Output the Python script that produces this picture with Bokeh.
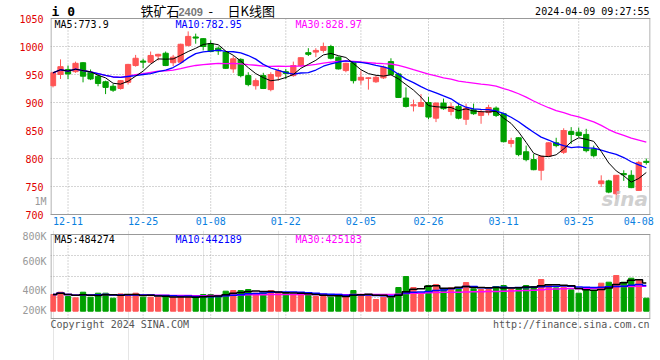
from bokeh.plotting import figure
from bokeh.layouts import column
from bokeh.models import Range1d, FixedTicker, Label, ColumnDataSource, LinearAxis, Span
from bokeh.embed import file_html
from bokeh.resources import INLINE

# ---------------- data ----------------
dates = ["12-07", "12-08",
         "12-11", "12-12", "12-13", "12-14", "12-15",
         "12-18", "12-19", "12-20", "12-21", "12-22",
         "12-25", "12-26", "12-27", "12-28", "12-29",
         "01-02", "01-03", "01-04", "01-05",
         "01-08", "01-09", "01-10", "01-11", "01-12",
         "01-15", "01-16", "01-17", "01-18", "01-19",
         "01-22", "01-23", "01-24", "01-25", "01-26",
         "01-29", "01-30", "01-31", "02-01", "02-02",
         "02-05", "02-06", "02-07", "02-08",
         "02-19", "02-20", "02-21", "02-22", "02-23",
         "02-26", "02-27", "02-28", "02-29", "03-01",
         "03-04", "03-05", "03-06", "03-07", "03-08",
         "03-11", "03-12", "03-13", "03-14", "03-15",
         "03-18", "03-19", "03-20", "03-21", "03-22",
         "03-25", "03-26", "03-27", "03-28", "03-29",
         "04-01", "04-02", "04-03",
         "04-08", "04-09"]

opens = [930, 950, 959, 955, 971, 954, 947, 937, 929, 925,
         936, 966, 974, 972, 983, 988, 971, 972, 1002, 1017,
         1014, 1005, 997, 990, 960, 977, 948, 930, 948, 923,
         947, 955, 948, 966, 989, 990, 993, 1000, 981, 957,
         971, 940, 943, 937, 944, 973, 951, 908, 894, 893,
         900, 872, 899, 884, 893, 870, 887, 877, 882, 890,
         880, 827, 837, 812, 798, 779, 804, 828, 811, 848,
         847, 843, 817, 755, 760, 737, 773, 770, 743, 795]

highs = [955, 977, 966, 973, 972, 959, 951, 939, 933, 940,
         969, 985, 978, 991, 987, 991, 985, 1005, 1027, 1023,
         1015, 1011, 1000, 991, 983, 979, 954, 943, 953, 954,
         961, 960, 973, 981, 997, 997, 1007, 1003, 982, 971,
         972, 957, 945, 948, 966, 979, 953, 927, 905, 915,
         910, 900, 907, 900, 899, 898, 898, 888, 896, 893,
         881, 837, 838, 823, 808, 805, 829, 837, 854, 856,
         855, 853, 823, 770, 762, 770, 779, 779, 796, 800]

lows = [927, 942, 942, 953, 936, 940, 929, 915, 919, 923,
        932, 964, 961, 970, 975, 965, 965, 970, 1000, 1005,
        993, 990, 985, 960, 953, 945, 929, 923, 924, 920,
        939, 942, 946, 963, 983, 981, 989, 977, 959, 954,
        934, 932, 923, 935, 942, 949, 908, 891, 884, 892,
        870, 865, 887, 877, 870, 860, 878, 862, 877, 874,
        829, 820, 804, 795, 779, 761, 803, 820, 808, 826,
        838, 811, 802, 749, 738, 727, 760, 747, 742, 789]

closes = [953, 964, 951, 970, 947, 942, 934, 927, 922, 939,
          968, 979, 972, 984, 986, 966, 981, 1004, 1018, 1015,
          1000, 991, 992, 961, 978, 948, 932, 939, 925, 950,
          957, 952, 966, 980, 986, 993, 1000, 979, 960, 970,
          939, 945, 944, 945, 963, 950, 909, 893, 896, 900,
          874, 899, 889, 893, 872, 890, 880, 883, 891, 877,
          830, 832, 807, 798, 780, 804, 828, 823, 850, 843,
          841, 814, 805, 760, 740, 770, 771, 748, 793, 793]

volumes = [285000, 325000, 251000, 228000, 325000, 239000, 308000, 308000, 222000, 296000,
           285000, 308000, 239000, 239000, 239000, 257000, 239000, 239000, 239000, 228000,
           285000, 285000, 268000, 342000, 353000, 353000, 371000, 308000, 308000, 353000,
           308000, 308000, 285000, 285000, 296000, 251000, 251000, 239000, 285000, 239000,
           353000, 285000, 285000, 200000, 239000, 228000, 405000, 593000, 405000, 285000,
           439000, 456000, 382000, 399000, 382000, 490000, 382000, 371000, 371000, 422000,
           439000, 371000, 405000, 439000, 422000, 542000, 456000, 399000, 410000, 365000,
           308000, 353000, 353000, 479000, 496000, 610000, 496000, 564000, 524000, 222000]

tick_dates = ["12-11", "12-25", "01-08", "01-22", "02-05", "02-26", "03-11", "03-25", "04-08"]
grid_dates = ["12-11", "12-25", "01-08", "01-22", "02-05", "02-26", "03-11", "03-25"]
price_ticks = [700, 750, 800, 850, 900, 950, 1000, 1050]
price_grid = [750, 800, 850, 900, 950, 1000]
vol_tick_labels = ["200K", "400K", "600K", "800K"]
price_ma_text = ["MA5:773.9", "MA10:782.95", "MA30:828.97"]
vol_ma_text = ["MA5:484274", "MA10:442189", "MA30:425183"]
title_name = "铁矿石"
title_code = "2409"
title_kind = "日K线图"
symbol_text = "i 0"
stamp_text = "2024-04-09 09:27:55"

# ---------------- styling / layout constants ----------------
RED = "#ff5555"
GREEN = "#00a000"
MONO = "DejaVu Sans Mono"
GRID = "#aaaaaa"
FRAME = "#999999"
P_LO, P_HI = 700, 1050            # visible price box
P_TOP = 1050 + 18 * 350 / 196     # frame extends 18px above the box (header row)
VPX = 17100                        # volume units per pixel
V_BASE_Y = 310.7                   # pixel row of zero volume
V_TOP = (V_BASE_Y - 230) * VPX     # frame top  (page y 230)
V_BOT = -(360 - V_BASE_Y) * VPX    # frame bottom (page y 360)
VB_HI = (V_BASE_Y - 234) * VPX     # visible volume box top
VB_LO = -(318 - V_BASE_Y) * VPX    # visible volume box bottom
vol_tick_pos = [(V_BASE_Y - y) * VPX for y in (310, 290, 261, 231)]


def moving_avg(vals, n):
    out = []
    for i in range(len(vals)):
        w = vals[max(0, i - n + 1): i + 1]
        out.append(sum(w) / len(w))
    return out


xs = list(range(len(dates)))
colors = [RED if c > o else GREEN for o, c in zip(opens, closes)]
src = ColumnDataSource(dict(
    x=xs, o=opens, h=highs, l=lows, c=closes,
    top=[max(o, c) for o, c in zip(opens, closes)],
    bot=[min(o, c) for o, c in zip(opens, closes)],
    col=colors, vol=volumes,
    ma5=moving_avg(closes, 5), ma10=moving_avg(closes, 10), ma30=moving_avg(closes, 30),
    vma5=moving_avg(volumes, 5), vma10=moving_avg(volumes, 10), vma30=moving_avg(volumes, 30),
))

tick_idx = [dates.index(d) for d in tick_dates]
grid_idx = [dates.index(d) for d in grid_dates]

X0, X1 = -0.333, 79.56
xr = Range1d(X0, X1)
inset = 0.5 * (X1 - X0) / 600.0   # half a pixel in x data units


def style_axis(ax, color, standoff):
    ax.axis_line_color = None
    ax.major_tick_line_color = None
    ax.minor_tick_line_color = None
    ax.major_tick_out = 0
    ax.major_tick_in = 0
    ax.major_label_text_font = MONO
    ax.major_label_text_font_size = "10px"
    ax.major_label_text_color = color
    ax.major_label_standoff = standoff


def lab(fig, fl, fb, X, Y, text, color="black", size="10px", font=MONO, align="left",
        style="normal", alpha=1.0):
    fig.add_layout(Label(x=X - fl, y=fb - Y, x_units="screen", y_units="screen", text=text,
                         text_color=color, text_font_size=size, text_font=font,
                         text_align=align, text_baseline="middle", text_font_style=style,
                         text_alpha=alpha))


# ---------------- price figure ----------------
FL, PB = 50, 214
p = figure(width=660, height=230, x_range=xr, y_range=Range1d(P_LO, P_TOP),
           output_backend="svg", toolbar_location=None, title=None,
           min_border_left=50, min_border_right=10, min_border_top=0, min_border_bottom=16)
p.background_fill_color = "white"
p.border_fill_color = "white"
p.outline_line_color = None

p.xaxis.ticker = FixedTicker(ticks=tick_idx)
p.xaxis.major_label_overrides = {i: d for i, d in zip(tick_idx, tick_dates)}
style_axis(p.xaxis[0], "#0a80e0", 2)
p.xaxis.axis_line_color = FRAME

# inner (nearest the frame) left axis carries the small grey "1M" mark
p.yaxis.ticker = FixedTicker(ticks=[724])
p.yaxis.major_label_overrides = {724: "1M"}
style_axis(p.yaxis[0], "#999999", 4)
# outer left axis carries the red price labels
price_axis = LinearAxis(ticker=FixedTicker(ticks=price_ticks))
style_axis(price_axis, "#e00000", -12)
p.add_layout(price_axis, "left")

p.xgrid.grid_line_color = None
p.ygrid.ticker = FixedTicker(ticks=price_grid)
p.ygrid.grid_line_color = GRID
p.ygrid.grid_line_dash = "1 2"

# vertical dotted grid lines limited to the box, and box edges
p.segment(x0=grid_idx, y0=P_LO, x1=grid_idx, y1=P_HI, line_color=GRID, line_dash="1 2",
          line_width=1)
p.segment(x0=[X0 + inset, X1 - inset], y0=P_LO, x1=[X0 + inset, X1 - inset], y1=P_HI,
          line_color=FRAME, line_width=1)
p.add_layout(Span(location=P_HI, dimension="width", line_color=FRAME, line_width=1))

p.segment(x0="x", y0="l", x1="x", y1="h", color="col", line_width=1, source=src)
p.vbar(x="x", width=0.7, top="top", bottom="bot", fill_color="col", line_color="col",
       line_width=1, source=src)
p.line(x="x", y="ma30", color="#ff00ff", line_width=1.3, source=src)
p.line(x="x", y="ma10", color="#0000ff", line_width=1.3, source=src)
p.line(x="x", y="ma5", color="black", line_width=1, source=src)

lab(p, FL, PB, 54, 24, price_ma_text[0], "black")
lab(p, FL, PB, 175, 24, price_ma_text[1], "#0000ff")
lab(p, FL, PB, 295, 24, price_ma_text[2], "#ff00ff")
lab(p, FL, PB, 51, 11, symbol_text, "black", "13px", MONO, style="bold")
lab(p, FL, PB, 140, 10, title_name, "black", "13px", "Noto Sans CJK SC")
lab(p, FL, PB, 178, 11, title_code, "#777777", "11px", "Liberation Sans", style="bold")
lab(p, FL, PB, 208, 10, "-", "black", "13px", "Noto Sans CJK SC")
lab(p, FL, PB, 227, 10, title_kind, "black", "13px", "Noto Sans CJK SC")
lab(p, FL, PB, 649, 11, stamp_text, "black", "10px", MONO, align="right")
lab(p, FL, PB, 601, 198, "sina", "#c4c4c4", "20px", "DejaVu Sans", style="bold italic", alpha=0.8)

# ---------------- volume figure ----------------
VFB = 360
v = figure(width=660, height=130, x_range=xr, y_range=Range1d(V_BOT, V_TOP),
           output_backend="svg", toolbar_location=None, title=None, x_axis_location=None,
           min_border_left=50, min_border_right=10, min_border_top=0, min_border_bottom=0)
v.background_fill_color = "white"
v.border_fill_color = "white"
v.outline_line_color = None
v.yaxis.ticker = FixedTicker(ticks=vol_tick_pos)
v.yaxis.major_label_overrides = {t: s for t, s in zip(vol_tick_pos, vol_tick_labels)}
style_axis(v.yaxis[0], "#999999", 4)
v.ygrid.ticker = FixedTicker(ticks=[VB_LO + k * (VB_HI - VB_LO) / 4 for k in (1, 2, 3)])
v.ygrid.grid_line_color = GRID
v.ygrid.grid_line_dash = "1 2"

v.segment(x0=grid_idx, y0=VB_LO, x1=grid_idx, y1=VB_HI, line_color=GRID, line_dash="1 2",
          line_width=1)
v.segment(x0=[X0 + inset, X1 - inset], y0=VB_LO, x1=[X0 + inset, X1 - inset], y1=VB_HI,
          line_color=FRAME, line_width=1)
v.add_layout(Span(location=VB_HI, dimension="width", line_color=FRAME, line_width=1))
v.add_layout(Span(location=VB_LO, dimension="width", line_color=FRAME, line_width=1))

v.vbar(x="x", width=0.7, top="vol", bottom=0, fill_color="col", line_color="col",
       line_width=1, source=src)
v.step(x="x", y="vma30", mode="center", color="#ff00ff", line_width=1.5, source=src)
v.step(x="x", y="vma10", mode="center", color="#0000ff", line_width=1.5, source=src)
v.step(x="x", y="vma5", mode="center", color="black", line_width=1.5, source=src)

lab(v, FL, VFB, 54, 239, vol_ma_text[0], "black")
lab(v, FL, VFB, 175, 239, vol_ma_text[1], "#0000ff")
lab(v, FL, VFB, 295, 239, vol_ma_text[2], "#ff00ff")
lab(v, FL, VFB, 50, 324, "Copyright 2024 SINA.COM", "#555555")
lab(v, FL, VFB, 649, 324, "http://finance.sina.com.cn", "#555555", align="right")

layout = column(p, v, spacing=0)
html = file_html(layout, INLINE)
html = html.replace("<head>", "<head><style>html,body{margin:0;padding:0;}</style>", 1)
open("out.html", "w").write(html)
